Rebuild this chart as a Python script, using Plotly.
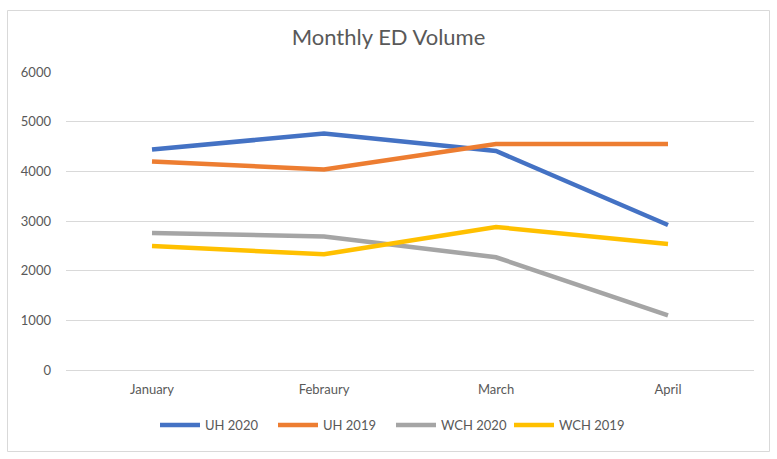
import plotly.graph_objects as go

months = ["January", "Febraury", "March", "April"]
uh_2020 = [4440, 4760, 4410, 2920]
uh_2019 = [4200, 4035, 4550, 4550]
wch_2020 = [2760, 2690, 2270, 1100]
wch_2019 = [2495, 2330, 2880, 2535]

series = [
    ("UH 2020", uh_2020, "#4472C4"),
    ("UH 2019", uh_2019, "#ED7D31"),
    ("WCH 2020", wch_2020, "#A5A5A5"),
    ("WCH 2019", wch_2019, "#FFC000"),
]

fig = go.Figure()
for name, vals, color in series:
    fig.add_trace(go.Scatter(
        x=months, y=vals, name=name, mode="lines",
        line=dict(color=color, width=4.5),
    ))

W, H = 777, 459
L, R, T, B = 66, 23, 72, 89
pw, ph = W - L - R, H - T - B

def px_x(p):
    return (p - L) / pw

def px_y(p):
    return (H - B - p) / ph

fig.update_layout(
    width=W, height=H,
    margin=dict(l=L, r=R, t=T, b=B, autoexpand=False),
    paper_bgcolor="white", plot_bgcolor="white",
    font=dict(family="Lato, Open Sans, sans-serif", color="#595959", size=13),
    title=dict(text="Monthly ED Volume", x=0.5, xanchor="center",
               y=1 - 37 / H, yanchor="middle",
               font=dict(size=22, color="#595959")),
    showlegend=True,
    legend=dict(orientation="h", x=px_x(155), xanchor="left",
                y=px_y(425), yanchor="middle",
                font=dict(size=13, color="#595959"),
                itemwidth=40, tracegroupgap=0,
                entrywidth=63, entrywidthmode="pixels"),
    xaxis=dict(type="category", range=[-0.5, 3.5], showgrid=False,
               showline=False, ticks="", zeroline=False, automargin=False,
               ticklabelstandoff=10,
               tickfont=dict(size=13, color="#595959")),
    yaxis=dict(range=[0, 6000], dtick=1000, showgrid=True,
               gridcolor="#D9D9D9", gridwidth=1, zeroline=True,
               zerolinecolor="#D9D9D9", zerolinewidth=1, automargin=False,
               showline=False, ticks="", ticklen=0, ticklabelstandoff=14,
               tickfont=dict(size=13, color="#595959")),
    shapes=[dict(type="rect", xref="paper", yref="paper",
                 x0=px_x(7.5), x1=px_x(769.5), y0=px_y(451.5), y1=px_y(10.5),
                 line=dict(color="#D9D9D9", width=1), fillcolor="rgba(0,0,0,0)",
                 layer="below")],
)

fig.write_html("out.html", config={"displayModeBar": False},
               post_script="document.body.style.margin='0';")
